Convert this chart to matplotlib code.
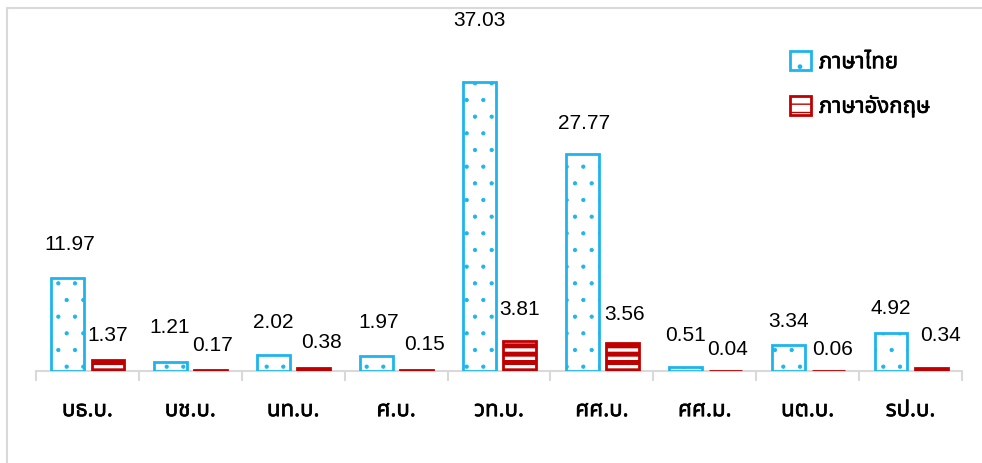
import matplotlib
matplotlib.use("Agg")
import matplotlib.pyplot as plt
from matplotlib import font_manager as fm
from matplotlib.patches import Rectangle
import matplotlib.patheffects as pe

# ---------------- data ----------------
categories = ["บธ.บ.", "บช.บ.", "นท.บ.", "ศ.บ.", "วท.บ.", "ศศ.บ.", "ศศ.ม.", "นต.บ.", "รป.บ."]
thai_values = [11.97, 1.21, 2.02, 1.97, 37.03, 27.77, 0.51, 3.34, 4.92]
eng_values = [1.37, 0.17, 0.38, 0.15, 3.81, 3.56, 0.04, 0.06, 0.34]
series_names = ["ภาษาไทย", "ภาษาอังกฤษ"]

# label offsets (pixels) relative to bar top centre
thai_label_dx = [2, -1, 0, 2, 0, 2, 0, 0, 0]
thai_label_dy = [34, 35, 34, 34, 63, 32, 33, 24, 25]
eng_label_dx = [0, 2, 8, 8, 0, 2, 2, 4, 9]
eng_label_dy = [26, 25, 27, 26, 33, 30, 22, 22, 34]

# ---------------- fonts ----------------
def find_thai_font():
    preferred = ["Tahoma", "Noto Sans Thai", "Noto Sans Thai UI", "Leelawadee UI", "Loma",
                 "Garuda", "Sarabun", "TH Sarabun New", "Waree", "Norasi", "Kinnari",
                 "Umpush", "Laksaman", "Noto Serif Thai"]
    names = {f.name for f in fm.fontManager.ttflist}
    for p in preferred:
        if p in names:
            return p
    try:
        from fontTools.ttLib import TTFont
        for f in fm.fontManager.ttflist:
            try:
                tt = TTFont(f.fname, fontNumber=0, lazy=True)
                cmap = tt.getBestCmap()
                if cmap and 0x0E20 in cmap and 0x0E29 in cmap and 0x0E1A in cmap:
                    return f.name
            except Exception:
                pass
    except Exception:
        pass
    return None

thai_font = find_thai_font()
thai_family = [thai_font, "DejaVu Sans"] if thai_font else ["DejaVu Sans"]
num_family = ["Liberation Sans", "DejaVu Sans"]
embolden = [pe.withStroke(linewidth=0.45, foreground="black")]

# ---------------- figure ----------------
W, H, DPI = 982, 464, 100
fig = plt.figure(figsize=(W / DPI, H / DPI), dpi=DPI)
fig.patch.set_facecolor("white")

# outer chart-area border
fig.patches.append(Rectangle((7 / W, -0.1), 1.2, 1 - 9 / H + 0.1, transform=fig.transFigure,
                             fill=False, edgecolor="#d9d9d9", linewidth=1.5, zorder=0))

ax_left, ax_right, ax_bottom_px, ax_top_px = 36, 962, 372, 60
ax = fig.add_axes([ax_left / W, 1 - ax_bottom_px / H, (ax_right - ax_left) / W,
                   (ax_bottom_px - ax_top_px) / H])
ax.set_facecolor("none")
ax.set_xlim(-0.5, len(categories) - 0.5)
ax.set_ylim(0, 40)

x = list(range(len(categories)))
width = 0.32
off_thai, off_eng = -0.19, 0.20
blue = "#1EB4EC"
red = "#C00000"

with plt.rc_context({"hatch.linewidth": 0.6}):
    bars_thai = ax.bar([i + off_thai for i in x], thai_values, width, facecolor="white",
                       edgecolor=blue, linewidth=2.0, hatch=".", zorder=3)
for b in bars_thai:
    if hasattr(b, "set_hatch_linewidth"):
        b.set_hatch_linewidth(0.6)

with plt.rc_context({"hatch.linewidth": 3.6}):
    bars_eng = ax.bar([i + off_eng for i in x], eng_values, width, facecolor="white",
                      edgecolor=red, linewidth=2.0, hatch="--", zorder=3)
for b in bars_eng:
    if hasattr(b, "set_hatch_linewidth"):
        b.set_hatch_linewidth(3.6)

# value labels
for i, v in enumerate(thai_values):
    ax.annotate(f"{v:.2f}", xy=(i + off_thai, v), xytext=(thai_label_dx[i], thai_label_dy[i]),
                textcoords="offset pixels", ha="center", va="center", fontsize=15,
                family=num_family, color="black", annotation_clip=False)
for i, v in enumerate(eng_values):
    ax.annotate(f"{v:.2f}", xy=(i + off_eng, v), xytext=(eng_label_dx[i], eng_label_dy[i]),
                textcoords="offset pixels", ha="center", va="center", fontsize=15,
                family=num_family, color="black", annotation_clip=False)

# axes styling
for s in ["top", "right", "left"]:
    ax.spines[s].set_visible(False)
ax.spines["bottom"].set_color("#d9d9d9")
ax.spines["bottom"].set_linewidth(1.5)
ax.set_yticks([])
ax.set_xticks(x)
ax.set_xticklabels(categories, family=thai_family, fontsize=16)
for t in ax.get_xticklabels():
    t.set_path_effects(embolden)
ax.tick_params(axis="x", which="major", length=0, pad=21)
ax.set_xticks([i - 0.5 for i in range(len(categories) + 1)], minor=True)
ax.tick_params(axis="x", which="minor", length=7, width=1.5, color="#d9d9d9")

# legend
leg = ax.legend([bars_thai[0], bars_eng[0]], series_names, loc="upper left",
                bbox_to_anchor=(790 / W, 1 - 52 / H), bbox_transform=fig.transFigure,
                frameon=False, handlelength=0.95, handleheight=0.95, handletextpad=0.35,
                labelspacing=0.95, borderaxespad=0, borderpad=0,
                prop={"family": thai_family, "size": 16})
for t in leg.get_texts():
    t.set_path_effects(embolden)

fig.savefig("out.png", dpi=DPI, facecolor="white")
